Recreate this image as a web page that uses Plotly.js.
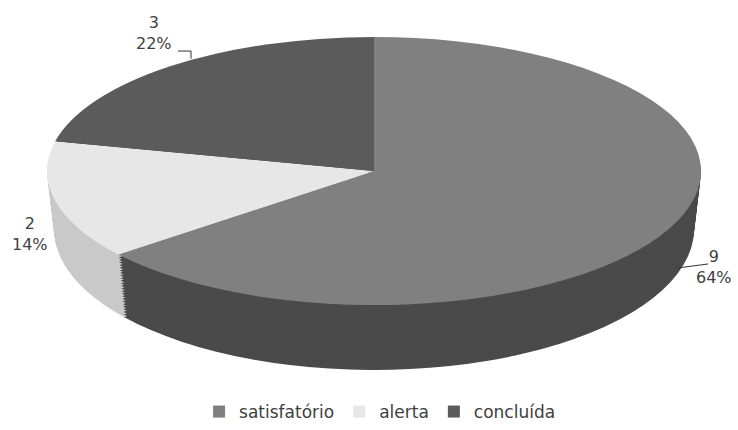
<!DOCTYPE html>
<html><head><meta charset="utf-8">
<script src="https://cdn.plot.ly/plotly-3.0.1.min.js"></script>
<style>html,body{margin:0;padding:0;background:#fff}</style>
</head><body><div id="chart" style="width:738px;height:430px"></div>
<script>
// ---- data ----
const categories = ['satisfatório', 'alerta', 'concluída'];
const values = [9, 2, 3];
const percentLabels = ['64%', '14%', '22%'];

// ---- styles ----
const topColors = ['#808080', '#e7e7e7', '#5b5b5b'];
const wallColors = ['#4a4a4a', '#c9c9c9', '#3a3a3a'];
const W = 738, H = 430;
const TOP = {cx: 374, cy: 171, a: 327, b: 134};
const BOT = {cx: 374, cy: 229, a: 320, b: 141};
const LAYERS = 24;
const FONT = 'DejaVu Sans, Verdana, sans-serif';

function px(x) { return x / W; }
function py(y) { return 1 - y / H; }

const traces = [], geoms = [];
for (let k = LAYERS; k >= 1; k--) {
  const t = k / LAYERS;
  traces.push({
    type: 'pie', labels: categories, values: values, sort: false,
    direction: 'clockwise', rotation: 0,
    marker: {colors: wallColors, line: {width: 0}},
    textinfo: 'none', hoverinfo: 'skip', showlegend: false
  });
  geoms.push({
    cx: TOP.cx + (BOT.cx - TOP.cx) * t,
    cy: TOP.cy + (BOT.cy - TOP.cy) * t,
    a: TOP.a + (BOT.a - TOP.a) * t,
    b: TOP.b + (BOT.b - TOP.b) * t
  });
}
traces.push({
  type: 'pie', labels: categories, values: values, sort: false,
  direction: 'clockwise', rotation: 0,
  marker: {colors: topColors, line: {width: 0}},
  textinfo: 'none', hoverinfo: 'skip', showlegend: true
});
geoms.push(TOP);

// label placement (layout only)
const labelPos = [[714, 272], [30, 238], [154, 34]];
const annotations = categories.map((c, i) => ({
  xref: 'paper', yref: 'paper',
  x: px(labelPos[i][0]), y: py(labelPos[i][1]),
  xanchor: 'center', yanchor: 'middle', align: 'center',
  text: values[i] + '<br>' + percentLabels[i],
  showarrow: false,
  font: {family: FONT, size: 16, color: '#404040'}
}));

const shapes = [
  {type: 'path', xref: 'paper', yref: 'paper',
   path: `M${px(678)},${py(273)} L${px(708)},${py(269)}`,
   line: {color: '#333', width: 1}},
  {type: 'path', xref: 'paper', yref: 'paper',
   path: `M${px(178)},${py(52)} L${px(191)},${py(52)} L${px(191)},${py(60)}`,
   line: {color: '#333', width: 1}}
];

const layout = {
  width: W, height: H,
  margin: {l: 0, r: 0, t: 0, b: 0},
  paper_bgcolor: '#fff',
  showlegend: true,
  legend: {
    orientation: 'h', x: 0.515, xanchor: 'center', y: py(420), yanchor: 'middle',
    font: {family: FONT, size: 17, color: '#404040'}, traceorder: 'normal'
  },
  annotations: annotations,
  shapes: shapes
};

Plotly.newPlot('chart', traces, layout, {staticPlot: true}).then(gd => {
  const groups = gd.querySelectorAll('.pielayer .trace');
  groups.forEach((g, i) => {
    const cd = gd.calcdata[i][0];
    const G = geoms[i];
    const sx = G.a / cd.r, sy = G.b / cd.r;
    g.setAttribute('transform',
      `translate(${G.cx},${G.cy}) scale(${sx},${sy}) translate(${-cd.cx},${-cd.cy})`);
  });
});
</script>
</body></html>
